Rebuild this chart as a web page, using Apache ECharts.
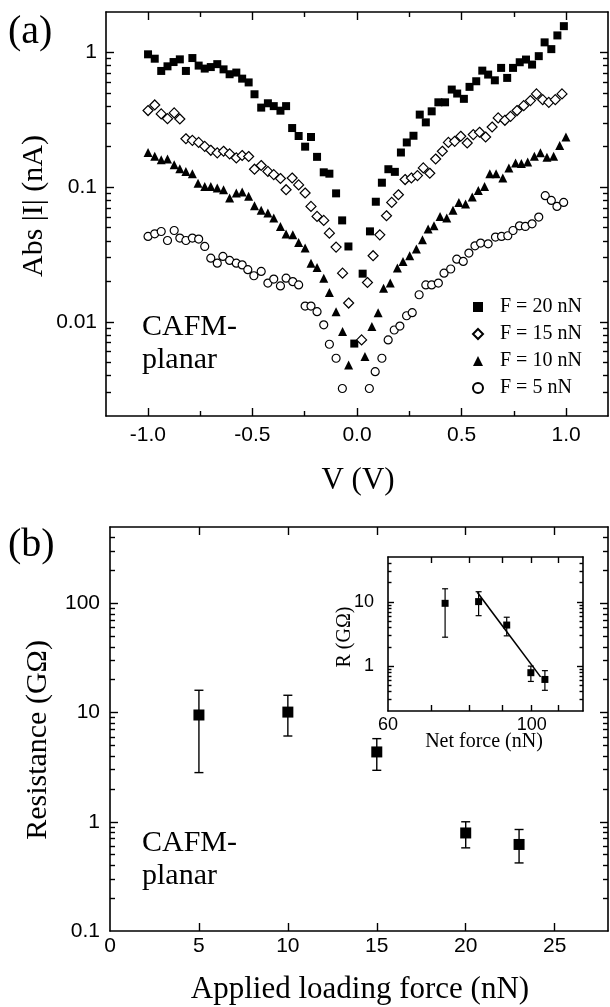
<!DOCTYPE html>
<html>
<head>
<meta charset="utf-8">
<script src="https://cdn.jsdelivr.net/npm/echarts@6.0.0/dist/echarts.min.js"></script>
<style>html,body{margin:0;background:#fff}#chart{width:610px;height:1007px}</style>
</head>
<body>
<div id="chart"></div>
<script>
// (a) |I| vs V for four loading forces
const f20V = [-0.999,-0.967,-0.936,-0.906,-0.877,-0.847,-0.818,-0.787,-0.757,-0.728,-0.699,-0.668,-0.638,-0.609,-0.577,-0.549,-0.518,-0.490,-0.458,-0.426,-0.398,-0.366,-0.339,-0.310,-0.279,-0.248,-0.220,-0.191,-0.159,-0.132,-0.100,-0.071,-0.041,-0.013,0.027,0.062,0.090,0.119,0.150,0.181,0.210,0.238,0.270,0.300,0.329,0.357,0.389,0.421,0.453,0.479,0.511,0.538,0.570,0.599,0.627,0.659,0.689,0.718,0.746,0.778,0.808,0.837,0.869,0.897,0.929,0.958,0.989];
const f20I = [0.97,0.90,0.73,0.79,0.85,0.89,0.73,0.91,0.80,0.76,0.78,0.82,0.75,0.69,0.71,0.64,0.60,0.49,0.39,0.42,0.40,0.37,0.40,0.275,0.24,0.20,0.236,0.168,0.129,0.126,0.090,0.0567,0.0363,0.0069,0.0228,0.047,0.078,0.108,0.136,0.130,0.181,0.215,0.241,0.346,0.303,0.366,0.427,0.427,0.531,0.496,0.453,0.556,0.612,0.734,0.686,0.622,0.769,0.648,0.769,0.847,0.887,0.814,0.94,1.19,1.06,1.34,1.57];
const f15V = [-0.999,-0.967,-0.936,-0.906,-0.874,-0.847,-0.818,-0.787,-0.757,-0.728,-0.699,-0.668,-0.638,-0.609,-0.577,-0.549,-0.518,-0.490,-0.458,-0.426,-0.398,-0.366,-0.339,-0.310,-0.279,-0.248,-0.220,-0.191,-0.159,-0.132,-0.100,-0.069,-0.040,0.022,0.050,0.077,0.109,0.141,0.166,0.198,0.230,0.260,0.289,0.317,0.348,0.376,0.408,0.437,0.467,0.496,0.527,0.556,0.586,0.615,0.646,0.675,0.707,0.734,0.765,0.797,0.829,0.858,0.888,0.917,0.948,0.980];
const f15I = [0.371,0.408,0.350,0.323,0.356,0.321,0.229,0.223,0.215,0.201,0.188,0.180,0.185,0.177,0.165,0.172,0.169,0.136,0.145,0.131,0.124,0.116,0.0958,0.117,0.104,0.0906,0.072,0.0607,0.0567,0.0456,0.0359,0.023,0.0138,0.00735,0.0196,0.031,0.0443,0.0614,0.0771,0.0879,0.114,0.117,0.122,0.139,0.127,0.162,0.185,0.215,0.219,0.239,0.213,0.246,0.256,0.236,0.280,0.327,0.314,0.336,0.371,0.403,0.440,0.493,0.447,0.427,0.447,0.493];
const f10V = [-0.999,-0.967,-0.936,-0.906,-0.874,-0.847,-0.818,-0.787,-0.760,-0.728,-0.699,-0.668,-0.638,-0.609,-0.577,-0.549,-0.518,-0.490,-0.458,-0.426,-0.398,-0.366,-0.339,-0.307,-0.279,-0.248,-0.220,-0.191,-0.159,-0.132,-0.100,-0.069,-0.040,0.038,0.071,0.101,0.127,0.159,0.193,0.220,0.252,0.284,0.313,0.340,0.368,0.397,0.429,0.459,0.487,0.519,0.551,0.580,0.610,0.635,0.665,0.697,0.726,0.758,0.786,0.816,0.848,0.877,0.908,0.940,0.969,0.999];
const f10I = [0.181,0.170,0.160,0.162,0.147,0.137,0.131,0.126,0.107,0.101,0.101,0.0986,0.0958,0.0831,0.0906,0.092,0.0855,0.0728,0.0673,0.0643,0.059,0.0511,0.0449,0.0443,0.0389,0.0353,0.0273,0.0253,0.0211,0.0165,0.0119,0.00847,0.00479,0.00552,0.00923,0.0117,0.0178,0.0194,0.0251,0.0281,0.031,0.0347,0.0407,0.0489,0.0517,0.0607,0.059,0.0673,0.0771,0.075,0.0846,0.0947,0.101,0.126,0.126,0.117,0.139,0.151,0.150,0.154,0.170,0.180,0.167,0.170,0.204,0.236];
const f5V = [-0.999,-0.967,-0.936,-0.906,-0.874,-0.847,-0.818,-0.787,-0.757,-0.728,-0.699,-0.668,-0.641,-0.609,-0.577,-0.549,-0.522,-0.493,-0.458,-0.426,-0.398,-0.366,-0.339,-0.307,-0.279,-0.248,-0.220,-0.191,-0.159,-0.132,-0.100,-0.070,0.059,0.087,0.119,0.149,0.178,0.205,0.237,0.264,0.297,0.329,0.357,0.389,0.416,0.448,0.477,0.508,0.535,0.564,0.591,0.627,0.662,0.691,0.721,0.746,0.777,0.805,0.837,0.869,0.900,0.929,0.956,0.988];
const f5I = [0.0431,0.0451,0.0469,0.0402,0.0477,0.0419,0.0402,0.0419,0.0412,0.0363,0.0297,0.0273,0.0306,0.0286,0.0273,0.0265,0.0244,0.022,0.0237,0.0194,0.0208,0.0185,0.0211,0.0199,0.0188,0.0131,0.0131,0.0119,0.0095,0.00682,0.00537,0.0032,0.0032,0.00427,0.00537,0.00735,0.0087,0.0093,0.0111,0.0117,0.0159,0.0188,0.0188,0.0194,0.023,0.0247,0.0292,0.0281,0.0324,0.0367,0.0385,0.038,0.0426,0.0431,0.0436,0.0477,0.0517,0.0511,0.0535,0.060,0.0865,0.0798,0.072,0.0771];
const seriesNames = ['F = 20 nN', 'F = 15 nN', 'F = 10 nN', 'F = 5 nN'];

// (b) resistance vs applied loading force, with error bars
const loadF = [5, 10, 15, 20, 23];
const resR = [9.5, 10.1, 4.36, 0.79, 0.62];
const resLo = [2.82, 6.1, 2.96, 0.577, 0.42];
const resHi = [16, 14.4, 5.77, 1.0, 0.85];
// inset: same resistances vs net force, plus the fitted line
const netF = [73.5, 82.8, 91.5, 99.7, 104.8];
const fitX = [82.4, 103.2];
const fitY = [14.1, 0.68];

// tick positions
const vTicks = [-1, -0.5, 0, 0.5, 1];
const vMinor = [-0.75, -0.25, 0.25, 0.75];
const fTicks = [0, 5, 10, 15, 20, 25];
const netTicks = [70, 80, 90, 100, 110];
const netLabels = [60, 100];

const BLACK = '#000';
const SANS = 'Liberation Sans', SERIF = 'Liberation Serif';
const lg = Math.log10;
const fmtPow = v => String(+Math.pow(10, v).toPrecision(3));

function minorLog(lo, hi) {
  const out = [];
  for (let d = Math.floor(lg(lo)) - 1; d <= Math.ceil(lg(hi)); d++)
    for (let m = 2; m <= 9; m++) { const v = m * Math.pow(10, d); if (v > lo * 1.0001 && v < hi * 0.9999) out.push(lg(v)); }
  return out;
}

// decorative tick/label axis (value axis in log space for log panels)
function tickAxis(grid, o) {
  return {
    gridIndex: grid, type: 'value', position: o.position, min: o.min, max: o.max,
    axisLine: { show: !!o.line, onZero: false, lineStyle: { color: BLACK, width: 1.6 } },
    axisTick: { show: true, inside: true, length: o.len, customValues: o.ticks, lineStyle: { color: BLACK, width: 1.4 } },
    axisLabel: o.labels ? { show: true, customValues: o.labels, formatter: o.fmt, color: BLACK,
      fontFamily: SANS, fontSize: o.font, margin: o.margin } : { show: false },
    splitLine: { show: false }, z: 3
  };
}
function dataAxis(grid, type, min, max) {
  return { gridIndex: grid, type, min, max, show: false, splitLine: { show: false } };
}

const xAxes = [], yAxes = [];
function addX(a) { xAxes.push(a); return xAxes.length - 1; }
function addY(a) { yAxes.push(a); return yAxes.length - 1; }

// ---- panel (a)
const aMin = 0.002, aMax = 2;
const axA = addX(dataAxis(0, 'value', -1.2, 1.2));
const ayA = addY(dataAxis(0, 'log', aMin, aMax));
addX(tickAxis(0, { min: -1.2, max: 1.2, position: 'bottom', ticks: vTicks, len: 8, labels: vTicks, fmt: v => v.toFixed(1), font: 21, margin: 9, line: true }));
addX(tickAxis(0, { min: -1.2, max: 1.2, position: 'bottom', ticks: vMinor, len: 5 }));
addX(tickAxis(0, { min: -1.2, max: 1.2, position: 'top', ticks: vTicks, len: 8, line: true }));
addX(tickAxis(0, { min: -1.2, max: 1.2, position: 'top', ticks: vMinor, len: 5 }));
addY(tickAxis(0, { min: lg(aMin), max: lg(aMax), position: 'left', ticks: [-2, -1, 0], len: 8, labels: [-2, -1, 0], fmt: fmtPow, font: 21, margin: 9, line: true }));
addY(tickAxis(0, { min: lg(aMin), max: lg(aMax), position: 'left', ticks: minorLog(aMin, aMax), len: 5 }));
addY(tickAxis(0, { min: lg(aMin), max: lg(aMax), position: 'right', ticks: [-2, -1, 0], len: 8, line: true }));
addY(tickAxis(0, { min: lg(aMin), max: lg(aMax), position: 'right', ticks: minorLog(aMin, aMax), len: 5 }));

// ---- panel (b)
const bMin = 0.1, bMax = 500;
const axB = addX(dataAxis(1, 'value', 0, 28));
const ayB = addY(dataAxis(1, 'log', bMin, bMax));
addX(tickAxis(1, { min: 0, max: 28, position: 'bottom', ticks: fTicks.slice(1), len: 8, labels: fTicks, fmt: v => String(v), font: 21, margin: 5, line: true }));
addX(tickAxis(1, { min: 0, max: 28, position: 'top', ticks: fTicks.slice(1), len: 8, line: true }));
addY(tickAxis(1, { min: lg(bMin), max: lg(bMax), position: 'left', ticks: [0, 1, 2], len: 8, labels: [-1, 0, 1, 2], fmt: fmtPow, font: 21, margin: 10, line: true }));
addY(tickAxis(1, { min: lg(bMin), max: lg(bMax), position: 'left', ticks: minorLog(bMin, bMax), len: 5 }));
addY(tickAxis(1, { min: lg(bMin), max: lg(bMax), position: 'right', ticks: [0, 1, 2], len: 8, line: true }));
addY(tickAxis(1, { min: lg(bMin), max: lg(bMax), position: 'right', ticks: minorLog(bMin, bMax), len: 5 }));

// ---- inset
const iMin = 0.2, iMax = 50, nMin = 60, nMax = 120;
const axI = addX(dataAxis(2, 'log', nMin, nMax));
const ayI = addY(dataAxis(2, 'log', iMin, iMax));
addX(tickAxis(2, { min: lg(nMin), max: lg(nMax), position: 'bottom', ticks: netTicks.map(lg), len: 6, labels: netLabels.map(lg), fmt: v => String(Math.round(Math.pow(10, v))), font: 18, margin: 5, line: true }));
addX(tickAxis(2, { min: lg(nMin), max: lg(nMax), position: 'top', ticks: netTicks.map(lg), len: 6, line: true }));
addY(tickAxis(2, { min: lg(iMin), max: lg(iMax), position: 'left', ticks: [0, 1], len: 6, labels: [0, 1], fmt: fmtPow, font: 18, margin: 14, line: true }));
addY(tickAxis(2, { min: lg(iMin), max: lg(iMax), position: 'left', ticks: minorLog(iMin, iMax), len: 3.5 }));
addY(tickAxis(2, { min: lg(iMin), max: lg(iMax), position: 'right', ticks: [0, 1], len: 6, line: true }));
addY(tickAxis(2, { min: lg(iMin), max: lg(iMax), position: 'right', ticks: minorLog(iMin, iMax), len: 3.5 }));

function scatter(name, xs, ys, symbol, size, filled, xi, yi) {
  return {
    name, type: 'scatter', xAxisIndex: xi, yAxisIndex: yi, symbol, symbolSize: size,
    data: xs.map((x, i) => [x, ys[i]]),
    itemStyle: { color: filled ? BLACK : '#fff', borderColor: BLACK, borderWidth: filled ? 0 : 1.2, opacity: 1 },
    z: 5
  };
}
function errorBars(xs, lo, hi, cap, lw, xi, yi) {
  return {
    type: 'custom', xAxisIndex: xi, yAxisIndex: yi, z: 4,
    data: xs.map((x, i) => [x, lo[i], hi[i]]),
    encode: { x: 0, y: [1, 2] },
    renderItem: (params, api) => {
      const a = api.coord([api.value(0), api.value(1)]);
      const b = api.coord([api.value(0), api.value(2)]);
      const st = { stroke: BLACK, lineWidth: lw };
      return { type: 'group', children: [
        { type: 'line', shape: { x1: a[0], y1: a[1], x2: b[0], y2: b[1] }, style: st },
        { type: 'line', shape: { x1: a[0] - cap, y1: a[1], x2: a[0] + cap, y2: a[1] }, style: st },
        { type: 'line', shape: { x1: b[0] - cap, y1: b[1], x2: b[0] + cap, y2: b[1] }, style: st }
      ] };
    }
  };
}

function txt(text, x, y, size, opt = {}) {
  return {
    type: 'text', x, y, rotation: opt.rot || 0, z: 20,
    style: { text, font: `${size}px "${SERIF}"`, fill: BLACK,
      align: opt.align || 'center', textAlign: opt.align || 'center',
      verticalAlign: 'middle', textVerticalAlign: 'middle' }
  };
}

const chart = echarts.init(document.getElementById('chart'), null, { renderer: 'canvas' });
chart.setOption({
  animation: false,
  backgroundColor: '#fff',
  grid: [
    { left: 106, top: 12, width: 502, height: 404 },
    { left: 110, top: 527, width: 498, height: 404 },
    { left: 388, top: 557, width: 195, height: 154 }
  ],
  xAxis: xAxes,
  yAxis: yAxes,
  legend: {
    orient: 'vertical', left: 467, top: 292, itemWidth: 10, itemHeight: 10, itemGap: 7,
    selectedMode: false, data: seriesNames,
    textStyle: { fontFamily: SERIF, fontSize: 20, color: BLACK, padding: [0, 0, 0, 12] }
  },
  series: [
    scatter(seriesNames[0], f20V, f20I, 'rect', 8, true, axA, ayA),
    scatter(seriesNames[1], f15V, f15I, 'diamond', 10, false, axA, ayA),
    scatter(seriesNames[2], f10V, f10I, 'triangle', 9, true, axA, ayA),
    scatter(seriesNames[3], f5V, f5I, 'circle', 8, false, axA, ayA),
    errorBars(loadF, resLo, resHi, 4.5, 1.4, axB, ayB),
    scatter('R', loadF, resR, 'rect', 11, true, axB, ayB),
    errorBars(netF, resLo, resHi, 3, 1.2, axI, ayI),
    scatter('Rnet', netF, resR, 'rect', 7, true, axI, ayI),
    { type: 'line', xAxisIndex: axI, yAxisIndex: ayI, data: fitX.map((x, i) => [x, fitY[i]]),
      symbol: 'none', lineStyle: { color: BLACK, width: 1.6 }, z: 4 }
  ],
  graphic: [
    txt('(a)', 8, 32, 40, { align: 'left' }),
    txt('Abs |I| (nA)', 34, 206, 30, { rot: Math.PI / 2 }),
    txt('V (V)', 358, 481, 31),
    txt('CAFM-', 142, 327, 30, { align: 'left' }),
    txt('planar', 142, 360, 30, { align: 'left' }),
    txt('(b)', 8, 545, 40, { align: 'left' }),
    txt('Resistance (GΩ)', 38, 740, 30, { rot: Math.PI / 2 }),
    txt('Applied loading force (nN)', 360, 990, 31),
    txt('CAFM-', 142, 843, 30, { align: 'left' }),
    txt('planar', 142, 876, 30, { align: 'left' }),
    txt('R (GΩ)', 345, 637, 20, { rot: Math.PI / 2 }),
    txt('Net force (nN)', 484, 742, 20)
  ]
});
</script>
</body>
</html>
